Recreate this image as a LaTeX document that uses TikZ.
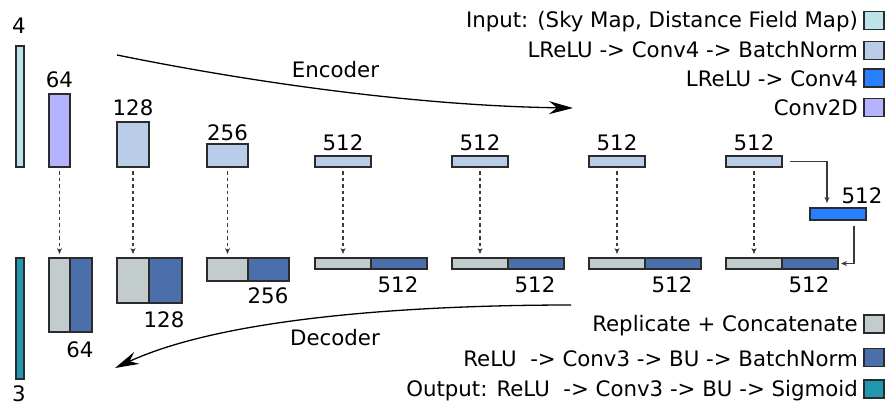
\documentclass[tikz,border=0pt]{standalone}
\usepackage{fontspec}
\setmainfont{DejaVu Sans}
\usetikzlibrary{arrows.meta,calc}

\definecolor{inputc}{HTML}{BDE3EA}
\definecolor{encc}{HTML}{B9CDE9}
\definecolor{bneckc}{HTML}{2A7FFF}
\definecolor{convc}{HTML}{B3B3FF}
\definecolor{repc}{HTML}{C3CCCC}
\definecolor{decc}{HTML}{4A6FAB}
\definecolor{outc}{HTML}{2298B0}
\definecolor{edge}{HTML}{2B2B2B}
\definecolor{wire}{HTML}{3A3A3A}

\begin{document}
\begin{tikzpicture}[x=1pt,y=-1pt,
  blk/.style={draw=edge, line width=1.2pt, inner sep=0pt, outer sep=0pt},
  lbl/.style={font=\fontsize{21.3}{25}\selectfont, inner sep=0pt, anchor=base},
  leg/.style={font=\fontsize{21.3}{25}\selectfont, inner sep=0pt, anchor=base east},
  key/.style={blk, minimum width=20pt, minimum height=18pt},
  skip/.style={draw=wire, line width=1.3pt, dash pattern=on 3.5pt off 3pt,
    -{Stealth[length=6pt,width=5pt]}},
  flow/.style={draw=wire, line width=1.1pt, -{Stealth[length=6pt,width=5pt]}},
  big/.style={line width=1.3pt, -{Stealth[length=24pt,width=13pt,inset=8pt]}}]

\useasboundingbox (0,0) rectangle (885,405);

% ---------------- encoder ----------------
\node[blk, fill=inputc, minimum width=8pt,  minimum height=121pt] (in)    at (20,106.5) {};
\node[blk, fill=convc,  minimum width=21pt, minimum height=73pt]  (c64)   at (59.5,130.5) {};
\node[blk, fill=encc,   minimum width=32pt, minimum height=45pt]  (e128)  at (133,144.5) {};
\node[blk, fill=encc,   minimum width=41pt, minimum height=23pt]  (e256)  at (227.5,155.5) {};
\node[blk, fill=encc,   minimum width=56pt, minimum height=11pt]  (e512a) at (343,161.5) {};
\node[blk, fill=encc,   minimum width=56pt, minimum height=11pt]  (e512b) at (480,161.5) {};
\node[blk, fill=encc,   minimum width=56pt, minimum height=11pt]  (e512c) at (617,161.5) {};
\node[blk, fill=encc,   minimum width=56pt, minimum height=11pt]  (e512d) at (754,161.5) {};
\node[blk, fill=bneckc, minimum width=56pt, minimum height=12pt]  (bott)  at (838,214) {};

\node[lbl] (tin)    at (19,33)    {4};
\node[lbl] (tc64)   at (59.5,87)  {64};
\node[lbl] (te128)  at (133,115)  {128};
\node[lbl] (te256)  at (227.5,140){256};
\node[lbl] (te512a) at (343,150)  {512};
\node[lbl] (te512b) at (480,150)  {512};
\node[lbl] (te512c) at (617,150)  {512};
\node[lbl] (te512d) at (754,150)  {512};
\node[lbl] (tbott)  at (862,203)  {512};

% ---------------- decoder ----------------
\node[blk, fill=repc, minimum width=21pt, minimum height=74pt] (r64)   at (59.5,295) {};
\node[blk, fill=decc, minimum width=22pt, minimum height=74pt] (d64)   at (81,295) {};
\node[blk, fill=repc, minimum width=32pt, minimum height=45pt] (r128)  at (133,280.5) {};
\node[blk, fill=decc, minimum width=33pt, minimum height=45pt] (d128)  at (165.5,280.5) {};
\node[blk, fill=repc, minimum width=41pt, minimum height=23pt] (r256)  at (227.5,269.5) {};
\node[blk, fill=decc, minimum width=41pt, minimum height=23pt] (d256)  at (268.5,269.5) {};
\node[blk, fill=repc, minimum width=56pt, minimum height=11pt] (r512a) at (343,263.5) {};
\node[blk, fill=decc, minimum width=56pt, minimum height=11pt] (d512a) at (399,263.5) {};
\node[blk, fill=repc, minimum width=56pt, minimum height=11pt] (r512b) at (480,263.5) {};
\node[blk, fill=decc, minimum width=56pt, minimum height=11pt] (d512b) at (536,263.5) {};
\node[blk, fill=repc, minimum width=56pt, minimum height=11pt] (r512c) at (617,263.5) {};
\node[blk, fill=decc, minimum width=56pt, minimum height=11pt] (d512c) at (673,263.5) {};
\node[blk, fill=repc, minimum width=56pt, minimum height=11pt] (r512d) at (754,263.5) {};
\node[blk, fill=decc, minimum width=56pt, minimum height=11pt] (d512d) at (810,263.5) {};
\node[blk, fill=outc, minimum width=8pt,  minimum height=121pt] (out)  at (20,318.5) {};

\node[lbl] (td64)   at (80,357)    {64};
\node[lbl] (td128)  at (164,327)   {128};
\node[lbl] (td256)  at (268,303)   {256};
\node[lbl] (td512a) at (398,292)   {512};
\node[lbl] (td512b) at (535,292)   {512};
\node[lbl] (td512c) at (672,292)   {512};
\node[lbl] (td512d) at (809,292)   {512};
\node[lbl] (tout)   at (19,401)    {3};

% ---------------- skip connections ----------------
\foreach \a/\b in {c64/r64, e128/r128, e256/r256, e512a/r512a,
                   e512b/r512b, e512c/r512c, e512d/r512d}
  \draw[skip] ([yshift=-4pt]\a.south) -- ([yshift=4pt]\b.north);

% bottleneck path
\draw[flow] ([xshift=8pt]e512d.east) -| ([xshift=-11pt,yshift=5pt]bott.north);
\draw[flow] ([xshift=16pt,yshift=-6pt]bott.south) |- ([xshift=3pt]d512d.east);

% ---------------- encoder / decoder arrows ----------------
\coordinate (encS) at (117,55);
\coordinate (encE) at (573,108);
\draw[big] (encS) .. controls (270,86) and (430,106) .. (encE);
\node[lbl] (tenc) at (335.5,77) {Encoder};

\coordinate (decS) at (571,305);
\coordinate (decE) at (115,368);
\draw[big] (decS) .. controls (430,305) and (230,315) .. (decE);
\node[lbl] (tdec) at (335,345) {Decoder};

% ---------------- legend ----------------
\node[key, fill=inputc] (k1) at (874,20.5) {};
\node[key, fill=encc]   (k2) at (874,50.5) {};
\node[key, fill=bneckc] (k3) at (874,78) {};
\node[key, fill=convc]  (k4) at (874,107.5) {};
\node[key, fill=repc]   (k5) at (874,324) {};
\node[key, fill=decc]   (k6) at (874,357.5) {};
\node[key, fill=outc]   (k7) at (874,389) {};

\node[leg] (l1) at (858,27)    {Input: (Sky Map, Distance Field Map)};
\node[leg] (l2) at (858,57)    {LReLU -> Conv4 -> BatchNorm};
\node[leg] (l3) at (858,86.5)  {LReLU -> Conv4};
\node[leg] (l4) at (858,115)   {Conv2D};
\node[leg] (l5) at (858,331.5) {Replicate + Concatenate};
\node[leg] (l6) at (858,366)   {ReLU\ \ -> Conv3 -> BU -> BatchNorm};
\node[leg] (l7) at (858,396.5) {Output: ReLU\ \ -> Conv3 -> BU -> Sigmoid};

\end{tikzpicture}
\end{document}
